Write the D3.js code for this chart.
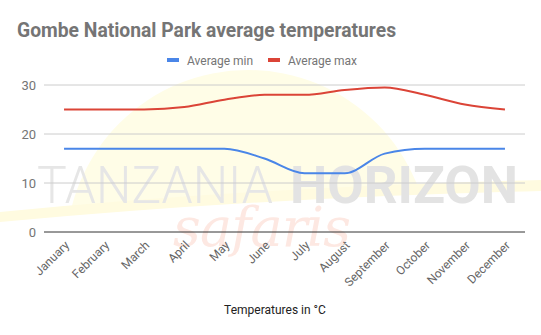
<!DOCTYPE html>
<html><head><meta charset="utf-8">
<script src="https://cdn.jsdelivr.net/npm/d3@7"></script>
<style>body{margin:0;background:#fff}svg{display:block;font-family:Roboto,Arial,sans-serif}</style>
</head><body><svg id="c" width="541" height="335"></svg>
<script>
const months = ["January","February","March","April","May","June","July","August","September","October","November","December"];
const avgMin = [17,17,17,17,17,15,12,12,16,17,17,17];
const avgMax = [25,25,25,25.5,27,28,28,29,29.5,28,26,25];
const yTicks = [0,10,20,30];
const seriesNames = ["Average min","Average max"];
const colors = ["#4a86e8","#db4437"];

const svg = d3.select("#c");
const L=44, R=525, T=85, B=232;
const x = d3.scalePoint().domain(months).range([L,R]).padding(0.5);
const y = d3.scaleLinear().domain([0,30]).range([B,T]);

// watermark
const defs = svg.append("defs");
defs.append("clipPath").attr("id","sky").append("path")
  .attr("d","M0,0 L541,0 L541,190 Q270,196 0,218 Z");
const wm = svg.append("g");
wm.append("circle").attr("cx",248).attr("cy",252).attr("r",182).attr("fill","#fffde7").attr("clip-path","url(#sky)");
wm.append("path").attr("d","M0,212 Q270,186 541,180 L541,191 Q270,197 0,222 Z").attr("fill","#fffbe0");
wm.append("text").attr("x",37).attr("y",203).attr("font-size",52).attr("font-weight",300)
  .attr("fill","#e6e6e6").attr("textLength",236).attr("lengthAdjust","spacingAndGlyphs").text("TANZANIA");
wm.append("text").attr("x",290).attr("y",203).attr("font-size",52).attr("font-weight",700)
  .attr("fill","#e3e3e3").attr("textLength",228).attr("lengthAdjust","spacingAndGlyphs").text("HORIZON");
wm.append("text").attr("x",173).attr("y",246).attr("font-size",54).attr("font-style","italic")
  .attr("font-family","'DejaVu Serif',serif").attr("fill","#fde8e2").attr("textLength",178).text("safaris");

// grid
svg.append("g").selectAll("line").data(yTicks.filter(d=>d>0)).join("line")
  .attr("x1",L).attr("x2",R).attr("y1",d=>y(d)).attr("y2",d=>y(d)).attr("stroke","#cccccc");
svg.append("line").attr("x1",L).attr("x2",R).attr("y1",y(0)).attr("y2",y(0)).attr("stroke","#333");

// y labels
svg.append("g").selectAll("text").data(yTicks).join("text")
  .attr("x",36).attr("y",d=>y(d)+4.5).attr("text-anchor","end").attr("font-size",13).attr("fill","#757575").text(d=>d);

// x labels
svg.append("g").selectAll("text").data(months).join("text")
  .attr("transform",d=>`translate(${x(d)+6},${B+14}) rotate(-45)`)
  .attr("text-anchor","end").attr("font-size",12).attr("fill","#666").text(d=>d);

// lines
const line = d3.line().x((d,i)=>x(months[i])).y(d=>y(d)).curve(d3.curveMonotoneX);
[avgMin,avgMax].forEach((s,i)=>{
  svg.append("path").attr("d",line(s)).attr("fill","none").attr("stroke",colors[i]).attr("stroke-width",2);
});

// title
svg.append("text").attr("x",17).attr("y",37).attr("font-size",19.3).attr("font-weight",700).attr("fill","#757575")
  .text("Gombe National Park average temperatures");

// legend
const lg = [{x:167},{x:268}];
seriesNames.forEach((n,i)=>{
  svg.append("rect").attr("x",lg[i].x).attr("y",58).attr("width",12).attr("height",4).attr("fill",colors[i]);
  svg.append("text").attr("x",lg[i].x+20).attr("y",64.5).attr("font-size",12).attr("fill","#757575").text(n);
});

// axis title
svg.append("text").attr("x",275).attr("y",314).attr("text-anchor","middle").attr("font-size",12).attr("fill","#222").text("Temperatures in °C");
</script></body></html>
